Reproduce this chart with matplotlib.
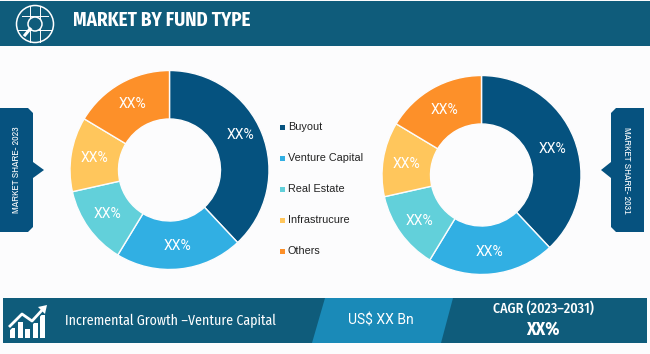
import numpy as np
import matplotlib
matplotlib.use('Agg')
import matplotlib.pyplot as plt
from matplotlib.patches import Polygon, Rectangle, Circle

categories = ['Buyout', 'Venture Capital', 'Real Estate', 'Infrastrucure', 'Others']
share_2023 = [38, 20.7, 12.8, 12.1, 16.4]
share_2031 = [38, 20.7, 12.8, 12.1, 16.4]
slice_labels = ['XX%', 'XX%', 'XX%', 'XX%', 'XX%']
colors = ['#05527f', '#31afe3', '#62d0da', '#ffc65c', '#fd9029']

NAVY = '#0f5c7b'
BLUE = '#1a8ab8'
SIDE = '#06527f'
COND = ['Fira Sans Condensed', 'Roboto Condensed', 'Barlow Semi Condensed', 'DejaVu Sans']
NARROW = ['Archivo Narrow', 'Liberation Sans', 'DejaVu Sans']
SANS = ['Liberation Sans', 'DejaVu Sans']

fig = plt.figure(figsize=(6.5, 3.54), dpi=100, facecolor='#fcfcfd')
ax = fig.add_axes([0, 0, 1, 1])


def donut(values, cx, cy, first_lift, label_dy):
    # y axis is flipped, so counterclock here reads clockwise on screen
    wedges, _ = ax.pie(values, colors=colors, startangle=270, counterclock=True,
                       center=(cx, cy), radius=99.5, frame=False,
                       wedgeprops=dict(width=48.5, edgecolor='#fcfcfd', linewidth=1.0))
    for i, (w, label) in enumerate(zip(wedges, slice_labels)):
        mid = np.deg2rad((w.theta1 + w.theta2) / 2)
        lift = first_lift if i == 0 else 0
        ax.text(cx + 76 * np.cos(mid), cy + label_dy + 76 * np.sin(mid) - lift, label,
                ha='center', va='center', fontsize=10, color='white', family=['Roboto', 'DejaVu Sans'])


donut(share_2023, 169.5, 170, 7, 0)
donut(share_2031, 481.5, 175, 0, 1.5)

ax.set_xlim(0, 650)
ax.set_ylim(354, 0)
ax.set_aspect('auto')
ax.axis('off')

# header
ax.add_patch(Rectangle((0, 1), 650, 45, fc=NAVY, ec='none'))
ax.add_patch(Circle((35, 24), 18.5, fc='none', ec='white', lw=1.1))
ax.add_patch(Circle((35, 24), 7, fc=NAVY, ec='white', lw=1.1, zorder=3))
ax.plot([22, 48], [16, 16], color='white', lw=0.7)
ax.plot([18, 52], [30, 30], color='white', lw=0.7)
ax.plot([30, 30], [6, 42], color='white', lw=0.7)
ax.plot([40, 40], [6, 42], color='white', lw=0.7)
ax.plot([30, 25], [29, 35], color='white', lw=2.2, zorder=4)
ax.text(73, 20, 'MARKET BY FUND TYPE', color='white', fontsize=13.7, fontweight='bold',
        va='center', ha='left', family=COND)

# side tabs
ax.add_patch(Polygon([(0, 108), (28, 108), (33, 113), (33, 162), (44, 170), (33, 178),
                      (33, 227), (28, 232), (0, 232)], fc=SIDE, ec='none'))
ax.text(17, 170, 'MARKET SHARE- 2023', color='white', fontsize=7.1, rotation=90,
        ha='center', va='center', family=NARROW)
ax.add_patch(Polygon([(644, 108), (616, 108), (611, 113), (611, 162), (601, 170), (611, 178),
                      (611, 227), (616, 232), (644, 232)], fc=SIDE, ec='none'))
ax.text(627, 170, 'MARKET SHARE- 2031', color='white', fontsize=7.1, rotation=270,
        ha='center', va='center', family=NARROW)

# legend
for i, name in enumerate(categories):
    y = 127 + i * 31
    ax.add_patch(Rectangle((280, y - 2.5), 5, 5, fc=colors[i], ec='none'))
    ax.text(288, y, name, fontsize=7.8, color='#222222', va='center', ha='left', family=SANS)

# footer
ax.add_patch(Rectangle((3, 298), 644, 45, fc=NAVY, ec='none'))
ax.add_patch(Polygon([(325, 298), (453, 298), (441, 343), (312, 343)], fc=BLUE, ec='none'))
for x, top in zip([10, 17.5, 25, 32.5, 40], [328, 322, 329, 323, 315]):
    ax.add_patch(Rectangle((x, top), 5, 338 - top, fc='white', ec='none'))
ax.plot([10, 22, 32, 44], [326, 314, 321, 308], color='white', lw=2, zorder=3)
ax.plot([10, 22, 32, 44], [329, 317, 324, 311], color=NAVY, lw=1.2, zorder=2)
ax.add_patch(Polygon([(38, 307), (47, 305), (45, 314)], fc='white', ec='none', zorder=3))
ax.text(65, 321, 'Incremental Growth \u2013Venture Capital', color='white', fontsize=10,
        va='center', ha='left', family=COND)
ax.text(381, 321, 'US$ XX Bn', color='white', fontsize=10, va='center', ha='center', family=['Roboto', 'DejaVu Sans'])
ax.text(543, 308, 'CAGR (2023\u20132031)', color='white', fontsize=10, fontweight='medium',
        va='center', ha='center', family=COND)
ax.text(543, 329, 'XX%', color='white', fontsize=13, fontweight='bold', va='center', ha='center', family=COND)

fig.savefig('out.png', dpi=100, facecolor=fig.get_facecolor())
